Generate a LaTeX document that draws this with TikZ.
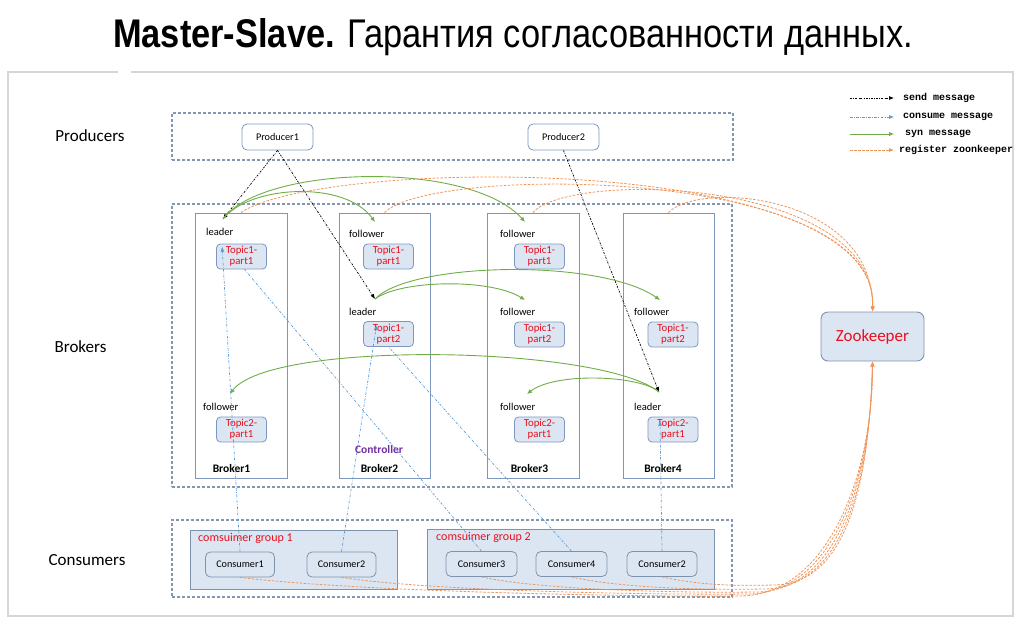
\documentclass[tikz,border=0pt]{standalone}
\usepackage{fontspec}
\setmainfont{Carlito}
\newfontfamily\titlefont{Liberation Sans}
\newfontfamily\legfont{Liberation Mono}
\usetikzlibrary{arrows.meta,calc}
\definecolor{grpc}{HTML}{8497B0}
\definecolor{brkc}{HTML}{7D96BE}
\definecolor{topf}{HTML}{DCE6F2}
\definecolor{topc}{HTML}{7D97C0}
\definecolor{tred}{HTML}{E8101E}
\definecolor{gbord}{HTML}{7F92AD}
\definecolor{greenc}{HTML}{70AD47}
\definecolor{bluec}{HTML}{5B9BD5}
\definecolor{orangec}{HTML}{F0955A}
\definecolor{purp}{HTML}{7030A0}
\definecolor{framec}{HTML}{D6D6D6}
\begin{document}
\begin{tikzpicture}[x=1pt,y=-1pt,
  grp/.style={draw=grpc, dash pattern=on 3pt off 2pt, line width=1.1pt, inner sep=0pt},
  brk/.style={draw=brkc, line width=0.9pt, inner sep=0pt},
  topic/.style={draw=topc, fill=topf, rounded corners=4pt, line width=0.8pt, minimum width=50pt, minimum height=25pt, inner sep=0pt, text=tred, align=center, font=\fontsize{10.8}{11}\selectfont},
  prod/.style={draw=topc, fill=white, rounded corners=5pt, line width=0.8pt, minimum width=71pt, minimum height=26pt, inner sep=0pt, font=\fontsize{10.2}{12}\selectfont},
  cons/.style={draw=gbord, fill=topf, rounded corners=5pt, line width=0.8pt, minimum width=69pt, minimum height=25pt, inner sep=0pt, font=\fontsize{10.2}{12}\selectfont},
  cgroup/.style={draw=gbord, fill=topf, line width=1pt, inner sep=0pt},
  role/.style={anchor=west, inner sep=0pt, font=\fontsize{10.5}{12}\selectfont},
  bname/.style={inner sep=0pt, font=\fontsize{11.5}{13}\selectfont\bfseries},
  side/.style={inner sep=0pt, font=\fontsize{17}{20}\selectfont},
  glabel/.style={anchor=west, inner sep=0pt, text=tred, font=\fontsize{12}{14}\selectfont},
  legt/.style={anchor=west, inner sep=0pt, font=\legfont\bfseries\fontsize{10}{11}\selectfont},
  send/.style={black, line width=0.7pt, dash pattern=on 2pt off 1.3pt on 0.6pt off 1.3pt, -{Latex[length=5pt,width=4pt]}},
  consume/.style={bluec, line width=0.7pt, dash pattern=on 2.5pt off 1.5pt on 0.6pt off 1.5pt},
  consa/.style={consume, -{Latex[length=5pt,width=4pt]}},
  syn/.style={greenc, line width=0.9pt, -{Latex[length=5pt,width=4.5pt]}},
  reg/.style={orangec, line width=0.8pt, dash pattern=on 2.5pt off 1.5pt, -{Latex[length=5pt,width=4pt]}}
]
\useasboundingbox (0,0) rectangle (1024,638);
% frame
\draw[framec, line width=1.6pt] (118,72) -- (8,72) -- (8,616) -- (1013,616) -- (1013,72) -- (131,72);
% title
\node[inner sep=0pt] (title) at (513,37) {\scalebox{0.86}[1]{\titlefont\fontsize{40}{44}\selectfont\textbf{Master-Slave.} Гарантия согласованности данных.}};
% side labels
\node[side] (lp) at (90,136) {Producers};
\node[side] (lb) at (80.5,347) {Brokers};
\node[side] (lc) at (87,560) {Consumers};
% group boxes
\node[grp, minimum width=561pt, minimum height=47pt] (pbox) at (452.5,136.5) {};
\node[grp, minimum width=560pt, minimum height=283pt] (bbox) at (452,345.5) {};
\node[grp, minimum width=560pt, minimum height=77pt] (cbox) at (452,558.5) {};
% producers
\node[prod] (p1) at (277.5,137) {Producer1};
\node[prod] (p2) at (563.5,137) {Producer2};
% broker columns
\node[brk, minimum width=92pt, minimum height=265pt] (b1) at (241,345.5) {};
\node[brk, minimum width=91pt, minimum height=265pt] (b2) at (384.5,345.5) {};
\node[brk, minimum width=92pt, minimum height=265pt] (b3) at (533,345.5) {};
\node[brk, minimum width=91pt, minimum height=265pt] (b4) at (668.5,345.5) {};
% roles
\node[role] (r11) at (206,232) {leader};
\node[role] (r13) at (203,407) {follower};
\node[role] (r21) at (349,234) {follower};
\node[role] (r22) at (349,312) {leader};
\node[role] (r31) at (500,234) {follower};
\node[role] (r32) at (500,312) {follower};
\node[role] (r33) at (500,407) {follower};
\node[role] (r42) at (634,312) {follower};
\node[role] (r43) at (634,407) {leader};
% topics
\node[topic] (t11) at (241.5,256.5) {Topic1-\\part1};
\node[topic] (t13) at (241.5,429.5) {Topic2-\\part1};
\node[topic] (t21) at (388.5,256.5) {Topic1-\\part1};
\node[topic] (t22) at (388.5,334) {Topic1-\\part2};
\node[topic] (t31) at (539.5,256.5) {Topic1-\\part1};
\node[topic] (t32) at (539.5,334.5) {Topic1-\\part2};
\node[topic] (t33) at (539.5,429.5) {Topic2-\\part1};
\node[topic] (t42) at (673,334.5) {Topic1-\\part2};
\node[topic] (t43) at (673,429.5) {Topic2-\\part1};
% broker names
\node[bname] (n1) at (231.5,468) {Broker1};
\node[bname] (n2) at (379.5,468) {Broker2};
\node[bname] (n3) at (529.5,468) {Broker3};
\node[bname] (n4) at (663,468) {Broker4};
\node[bname, text=purp] (ctl) at (379,449) {Controller};
% consumer groups
\node[cgroup, minimum width=207pt, minimum height=59pt] (g1) at (293.5,559.5) {};
\node[cgroup, minimum width=287pt, minimum height=60pt] (g2) at (570.5,559) {};
\node[glabel] (g1l) at (198,538) {comsuimer group 1};
\node[glabel] (g2l) at (436,537) {comsuimer group 2};
\node[cons] (c1) at (240,564.5) {Consumer1};
\node[cons] (c2) at (341.5,564.5) {Consumer2};
\node[cons, minimum width=71pt] (c3) at (481.5,564) {Consumer3};
\node[cons, minimum width=71pt] (c4) at (571.5,564) {Consumer4};
\node[cons, minimum width=70pt] (c5) at (662,564) {Consumer2};
% zookeeper
\node[draw=gbord, fill=topf, rounded corners=7pt, line width=0.9pt, minimum width=103pt, minimum height=49pt, inner sep=0pt, text=tred, font=\fontsize{17}{20}\selectfont] (zk) at (872.5,336.5) {Zookeeper};
% key points
\coordinate (L1) at (223,219);
\coordinate (L2) at (375,299);
\coordinate (L4) at (659,392);
\coordinate (F21) at (375,222);
\coordinate (F31) at (525,222);
\coordinate (F32) at (525,300);
\coordinate (F42) at (660,300);
\coordinate (F13) at (230,394);
\coordinate (F33) at (527,394);
% send messages
\draw[send] (p1.south) -- (L1);
\draw[send] (p1.south) -- (L2);
\draw[send] (p2.south) -- (L4);
% syn messages
\draw[syn] (L1) .. controls (250,185) and (345,180) .. (F21);
\draw[syn] (L1) .. controls (262,165) and (470,160) .. (F31);
\draw[syn] (L2) .. controls (400,280) and (490,278) .. (F32);
\draw[syn] (L2) .. controls (410,262) and (600,258) .. (F42);
\draw[syn] (L4) .. controls (600,345) and (270,340) .. (F13);
\draw[syn] (L4) .. controls (640,375) and (555,372) .. (F33);
% consume messages
\draw[consa] (c1.north) -- ($(t11.north west)+(6,3)$);
\draw[consa] (c2.north) -- ($(t22.north)+(-12,4)$);
\draw[consume] (c3.north) -- ($(t11.south)+(3,0)$);
\draw[consume] (c4.north) -- ($(t22.south)+(0,0)$);
\draw[consa] (c5.north) -- ($(t43.north)+(-13,4)$);
% register zookeeper (brokers)
\draw[reg] (b1.north) .. controls (320,158) and (880,150) .. (zk.north);
\draw[reg] (b2.north) .. controls (430,165) and (880,165) .. (zk.north);
\draw[reg] (b3.north) .. controls (570,170) and (876,178) .. (zk.north);
\draw[reg] (b4.north) .. controls (700,180) and (873,195) .. (zk.north);
% register zookeeper (consumers)
\coordinate (M1) at (740,596);
\coordinate (M2) at (748,594);
\coordinate (M3) at (756,592);
\coordinate (M4) at (764,589);
\coordinate (M5) at (774,585);
\draw[reg] (c1.south) .. controls (360,592) and (640,597) .. (M1) .. controls (830,595) and (873,470) .. (zk.south);
\draw[reg] (c2.south) .. controls (430,591) and (650,595) .. (M2) .. controls (836,593) and (872,470) .. (zk.south);
\draw[reg] (c3.south) .. controls (540,590) and (680,593) .. (M3) .. controls (842,591) and (871,470) .. (zk.south);
\draw[reg] (c4.south) .. controls (620,588) and (700,590) .. (M4) .. controls (848,588) and (870,470) .. (zk.south);
\draw[reg] (c5.south) .. controls (700,585) and (730,586) .. (M5) .. controls (852,584) and (869,470) .. (zk.south);
% legend
\coordinate (ls1) at (850,98);  \coordinate (le1) at (894,98);
\coordinate (ls2) at (850,117); \coordinate (le2) at (894,117);
\coordinate (ls3) at (850,134); \coordinate (le3) at (894,134);
\coordinate (ls4) at (850,150); \coordinate (le4) at (894,150);
\draw[send] (ls1) -- (le1);
\draw[consa] (ls2) -- (le2);
\draw[syn] (ls3) -- (le3);
\draw[reg] (ls4) -- (le4);
\node[legt] (lt1) at (903,98) {send message};
\node[legt] (lt2) at (903,117) {consume message};
\node[legt] (lt3) at (905,134) {syn message};
\node[legt] (lt4) at (899,150) {register zoonkeeper};
\end{tikzpicture}
\end{document}
